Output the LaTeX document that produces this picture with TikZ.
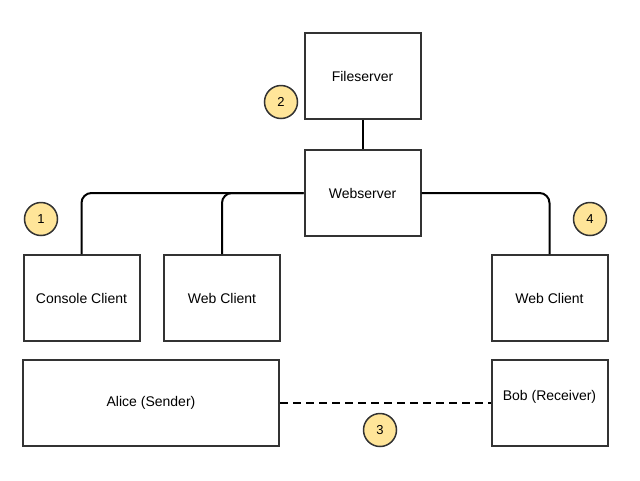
\documentclass[tikz,border=0pt]{standalone}
\usepackage{fontspec}
\setmainfont{Liberation Sans}

\begin{document}
\begin{tikzpicture}[x=1pt, y=-1pt,
    box/.style={draw=borderColour, line width=2pt, minimum width=116pt, minimum height=86pt, inner sep=0pt, font=\fontsize{14}{16}\selectfont},
    marker/.style={circle, draw=borderColour, fill=fillColourMarker, line width=1.5pt, minimum size=33pt, inner sep=0pt, font=\fontsize{13}{15}\selectfont},
    link/.style={line width=2pt, rounded corners=10pt}]
    \def\cornerRadius{10}

    \definecolor{borderColour}{HTML}{333333}
    \definecolor{fillColourMarker}{HTML}{FFE599}

    % Fix the page size
    \useasboundingbox (0,0) rectangle (640,480);

    % Servers
    \node[box] (fileserver) at (362.5,76) {Fileserver};
    \node[box] (webserver) at (362.5,193) {Webserver};

    % Clients
    \node[box] (consoleClient) at (81.5,298) {Console Client};
    \node[box] (webClientA) at (222,298) {Web Client};
    \node[box] (webClientB) at (549.5,298) {Web Client};

    % Users
    \node[box, minimum width=256pt] (alice) at (151,403) {Alice (Sender)};
    \node[box, text depth=15pt] (bob) at (549.5,403) {Bob (Receiver)};

    % Connections
    \draw[link] (fileserver) -- (webserver);
    \draw[link] (webserver.west) -| (consoleClient.north);
    \draw[link] (webserver.west) -| (webClientA.north);
    \draw[link] (webserver.east) -| (webClientB.north);
    \draw[line width=2pt, dash pattern=on 8pt off 5pt] (alice.east) -- (bob.west);

    % Step markers
    \node[marker] (stepOne) at (41,219) {1};
    \node[marker] (stepTwo) at (281,102) {2};
    \node[marker] (stepThree) at (380,430) {3};
    \node[marker] (stepFour) at (590,219) {4};

\end{tikzpicture}
\end{document}
